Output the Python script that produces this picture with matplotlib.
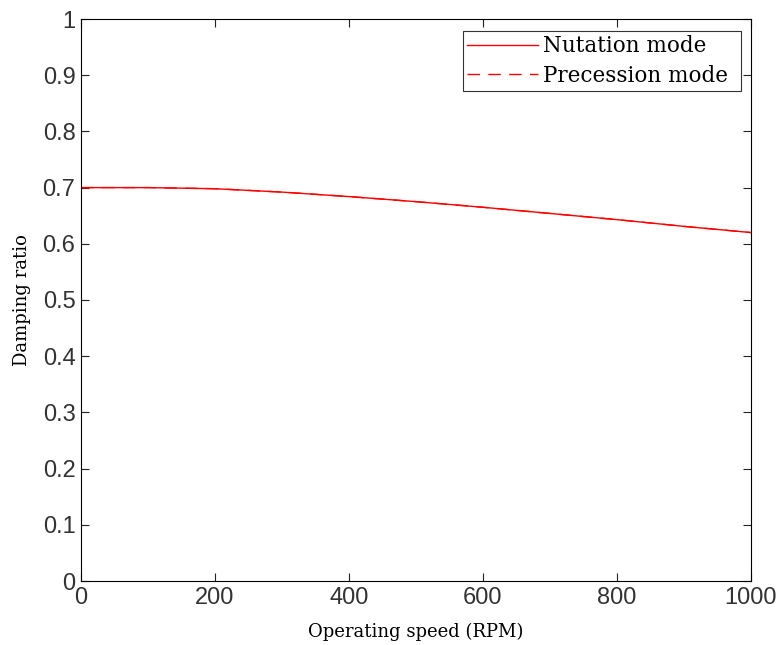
import matplotlib
matplotlib.use("Agg")
import matplotlib.pyplot as plt
import numpy as np

plt.rcParams["font.family"] = ["Liberation Sans", "DejaVu Sans"]

speed = [0, 100, 200, 300, 400, 500, 600, 700, 800, 900, 1000]
nutation = [0.700, 0.700, 0.698, 0.692, 0.684, 0.675, 0.665, 0.654, 0.643, 0.631, 0.620]
precession = [0.700, 0.700, 0.698, 0.692, 0.684, 0.675, 0.665, 0.654, 0.643, 0.631, 0.620]
xticks = [0, 200, 400, 600, 800, 1000]
yticks = [0, 0.1, 0.2, 0.3, 0.4, 0.5, 0.6, 0.7, 0.8, 0.9, 1]
ytick_labels = ["0", "0.1", "0.2", "0.3", "0.4", "0.5", "0.6", "0.7", "0.8", "0.9", "1"]

fig = plt.figure(figsize=(7.82, 6.45), dpi=100)
ax = fig.add_axes([81/782, 64/645, 670/782, 562/645])
ax.plot(speed, nutation, color="red", lw=1.0, ls="-", label="Nutation mode")
ax.plot(speed, precession, color="red", lw=1.0, ls=(0, (9, 6)), label="Precession mode")
ax.set_xlim(0, 1000)
ax.set_ylim(0, 1)
ax.set_xticks(xticks)
ax.set_yticks(yticks)
ax.set_yticklabels(ytick_labels)
ax.tick_params(direction="in", length=6, width=0.8, top=True, right=True,
               labelsize=17, pad=4, colors="#222222", labelcolor="#333333")
for s in ax.spines.values():
    s.set_linewidth(0.8)
ax.set_xlabel("Operating speed (RPM)", family="DejaVu Serif", fontsize=13, labelpad=10)
ax.set_ylabel("Damping ratio", family="DejaVu Serif", fontsize=13, labelpad=8)
leg = ax.legend(loc="upper left", bbox_to_anchor=(0.570, 0.0, 0.415, 0.9786),
                mode="expand", prop={"family": "DejaVu Serif", "size": 15.5},
                frameon=True, fancybox=False, edgecolor="black", borderpad=0.2,
                labelspacing=0.35, handlelength=3.3, handletextpad=0.2,
                borderaxespad=0.0)
leg.get_frame().set_linewidth(0.8)
fig.savefig("out.png", dpi=100, facecolor="white")
